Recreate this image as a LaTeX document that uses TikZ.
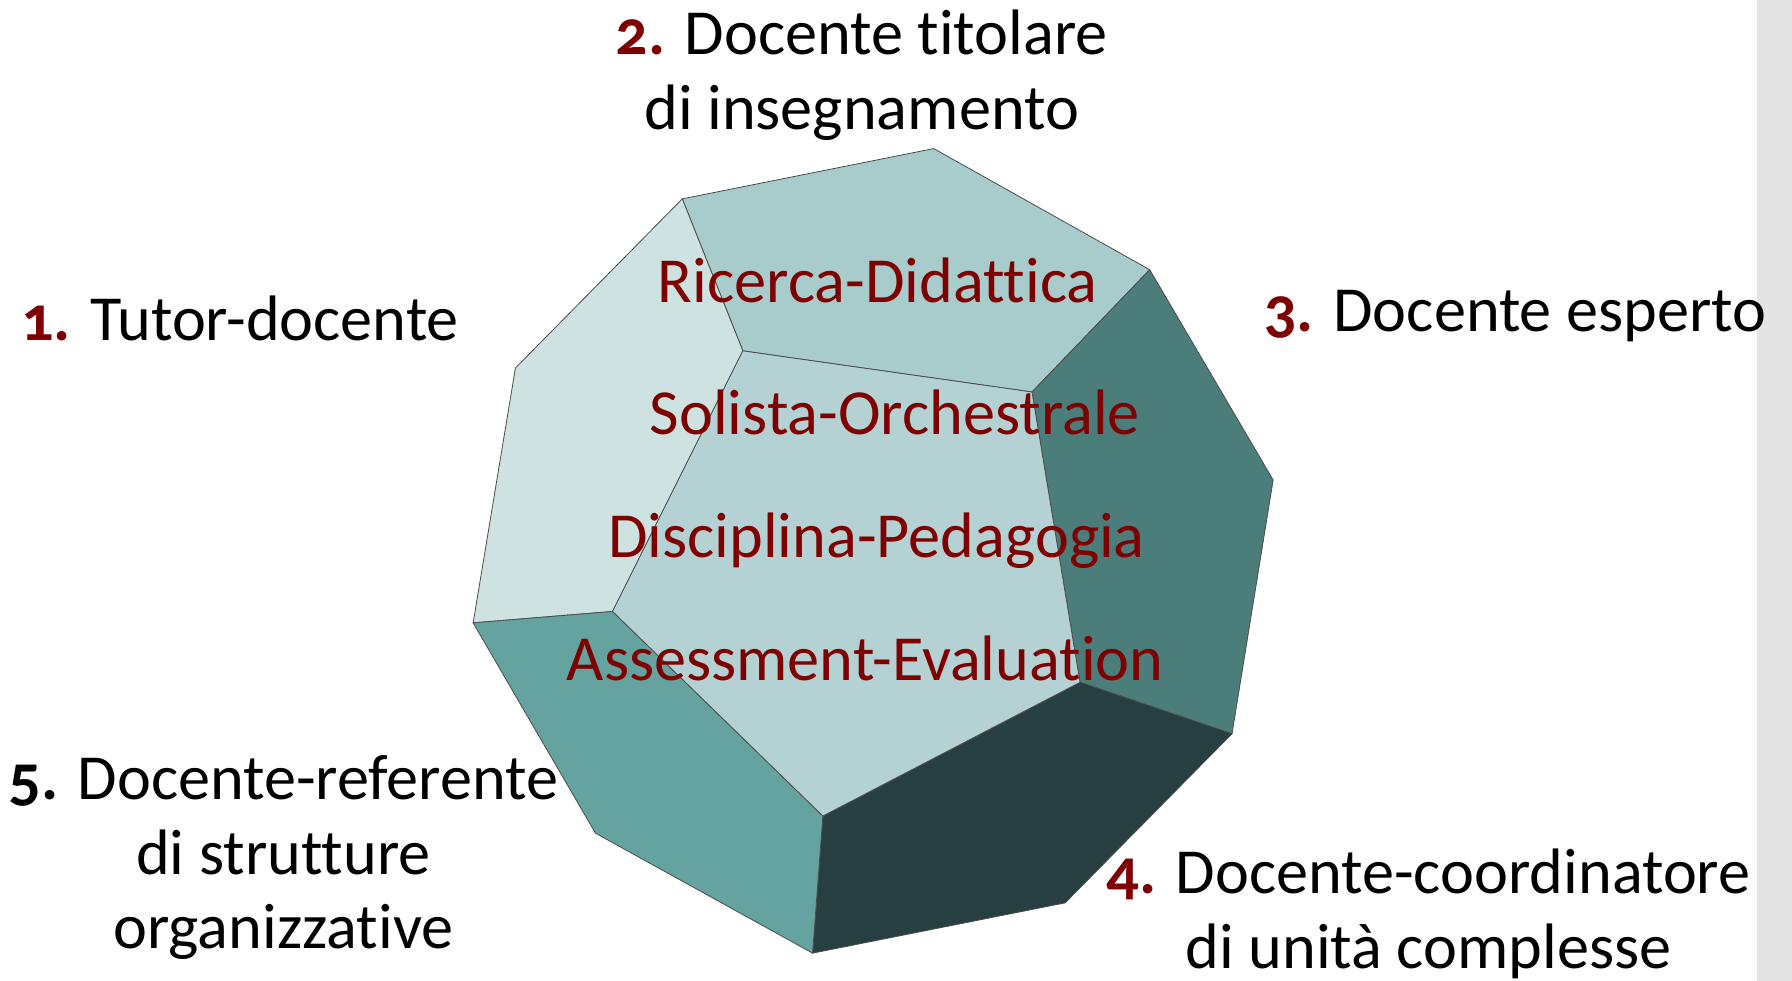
\documentclass[tikz,border=0pt]{standalone}
\usepackage{fontspec}
\setmainfont{Carlito}[Ligatures=NoCommon]
\newfontfamily\numfont[Numbers=OldStyle]{Carlito}
\usepackage{tikz}

\definecolor{numred}{HTML}{7F0000}
\definecolor{faceTop}{HTML}{A8CBCB}
\definecolor{faceLeft}{HTML}{CEE2E2}
\definecolor{faceMid}{HTML}{B4D2D3}
\definecolor{faceRight}{HTML}{4B7D7A}
\definecolor{faceLow}{HTML}{273F40}
\definecolor{faceSide}{HTML}{65A3A1}
\definecolor{barGray}{HTML}{E4E4E4}

\tikzset{
  face/.style={draw=black!70, line width=0.4pt},
  role/.style={anchor=base, align=center, font=\fontsize{32}{37}\selectfont},
  skill/.style={anchor=base, text=numred, font=\fontsize{32}{37}\selectfont}
}
\newcommand{\rolenum}[1]{{\bfseries\numfont\textcolor{numred}{#1}}}

\begin{document}
\begin{tikzpicture}[x=0.02cm,y=-0.02cm]
  \useasboundingbox (0,0) rectangle (1568,858);
  \fill[barGray] (1537,0) rectangle (1568,858);

  % outer ring
  \coordinate (o1) at (597,174);
  \coordinate (o2) at (817,130);
  \coordinate (o3) at (1006,236);
  \coordinate (o4) at (1114,420);
  \coordinate (o5) at (1078,642);
  \coordinate (o6) at (932,790);
  \coordinate (o7) at (711,834);
  \coordinate (o8) at (521,729);
  \coordinate (o9) at (414,545);
  \coordinate (o10) at (451,322);
  % front pentagon
  \coordinate (p1) at (650,307);
  \coordinate (p2) at (903,343);
  \coordinate (p3) at (945,597);
  \coordinate (p4) at (720,714);
  \coordinate (p5) at (536,535);

  \foreach \a/\b/\c/\d/\e/\col in {o1/o2/o3/p2/p1/faceTop, o10/o1/p1/p5/o9/faceLeft,
      o3/o4/o5/p3/p2/faceRight, o5/o6/o7/p4/p3/faceLow, o9/p5/p4/o7/o8/faceSide,
      p1/p2/p3/p4/p5/faceMid}
    \filldraw[face, fill=\col] (\a) -- (\b) -- (\c) -- (\d) -- (\e) -- cycle;

  \node[skill] (ricerca) at (768,265) {Ricerca-Didattica};
  \node[skill] (solista) at (783,380) {Solista-Orchestrale};
  \node[skill] (disciplina) at (767,488) {Disciplina-Pedagogia};
  \node[skill] (assessment) at (757,595) {Assessment-Evaluation};

  \node[role] (tutor) at (210,298) {\rolenum{1.} Tutor-docente};
  \node[role] (titolare) at (754,113) {\rolenum{2.} Docente titolare\\di insegnamento};
  \node[role] (esperto) at (1326,290) {\rolenum{3.} Docente esperto};
  \node[role] (coordinatore) at (1250,847) {\rolenum{4.} Docente-coordinatore\\di unità complesse};
  \node[role] (referente) at (248,830) {{\bfseries\numfont 5.} Docente-referente\\di strutture\\organizzative};
\end{tikzpicture}
\end{document}
